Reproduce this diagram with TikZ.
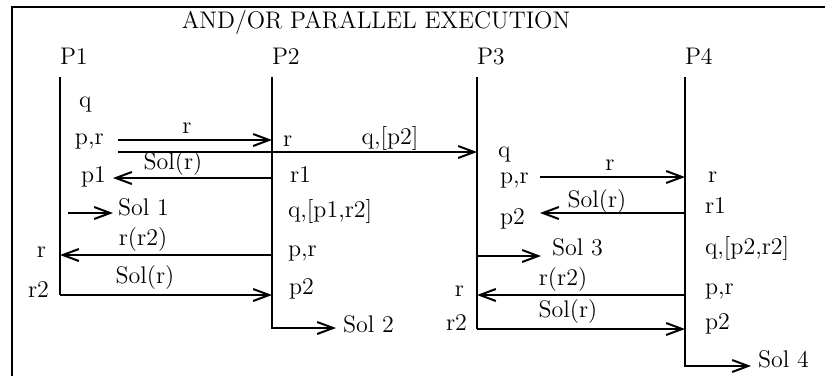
\documentclass[tikz,border=0pt]{standalone}
\usetikzlibrary{arrows.meta}
\begin{document}
\begin{tikzpicture}[x=0.5pt,y=-0.5pt,
  every node/.style={inner sep=0pt, outer sep=0pt, font=\fontsize{12}{14}\selectfont, text height=1.5ex, text depth=0.25ex},
  lab/.style={anchor=west},
  rlab/.style={anchor=east},
  proc/.style={line width=1pt},
  msg/.style={line width=1pt, -{Straight Barb[length=8pt,width=6pt]}},
  ttl/.style={font=\fontsize{12}{14}\selectfont}]
\useasboundingbox (0,0) rectangle (825,376);
% frame
\draw[line width=1pt] (12,376) -- (12,7) -- (825,7);
% title
\node[ttl] (title) at (376,23) {AND/OR PARALLEL EXECUTION};
% process headers
\node[lab] (P1) at (60,59) {P1};
\node[lab] (P2) at (272,59) {P2};
\node[lab] (P3) at (477,59) {P3};
\node[lab] (P4) at (685,59) {P4};
% process lines
\coordinate (t1) at (60,77);  \coordinate (b1) at (60,295);
\coordinate (t2) at (272,77); \coordinate (b2) at (272,328); \coordinate (s2) at (336,328);
\coordinate (t3) at (477,77); \coordinate (b3) at (477,329);
\coordinate (t4) at (685,77); \coordinate (b4) at (685,366); \coordinate (s4) at (751,366);
\draw[proc] (t1) -- (b1);
\draw[proc] (t3) -- (b3);
\draw[msg] (t2) -- (b2) -- (s2);
\draw[msg] (t4) -- (b4) -- (s4);
% P1 labels
\node[lab] (p1q) at (79,102) {q};
\node[lab] (p1pr) at (75,139) {p,r};
\node[lab] (p1p1) at (81,177) {p1};
\node[lab] (sol1) at (118,210) {Sol 1};
\node[rlab] (p1r) at (46,252) {r};
\node[rlab] (p1r2) at (49,292) {r2};
% P2 labels
\node[lab] (p2r) at (283,141) {r};
\node[lab] (p2r1) at (290,177) {r1};
\node[lab] (p2q) at (288,212) {q,[p1,r2]};
\node[lab] (p2pr) at (288,251) {p,r};
\node[lab] (p2p2) at (289,289) {p2};
\node[lab] (sol2) at (343,327) {Sol 2};
% P3 labels
\node[lab] (p3q) at (498,152) {q};
\node[lab] (p3pr) at (500,178) {p,r};
\node[lab] (p3p2) at (500,219) {p2};
\node[lab] (sol3) at (552,250) {Sol 3};
\node[rlab] (p3r) at (464,291) {r};
\node[rlab] (p3r2) at (467,325) {r2};
% P4 labels
\node[lab] (p4r) at (708,177) {r};
\node[lab] (p4r1) at (705,208) {r1};
\node[lab] (p4q) at (705,249) {q,[p2,r2]};
\node[lab] (p4pr) at (705,289) {p,r};
\node[lab] (p4p2) at (705,324) {p2};
\node[lab] (sol4) at (758,362) {Sol 4};
% message end points
\coordinate (m1) at (118,140);
\coordinate (m2) at (118,152);
\coordinate (m3) at (113,178);
\coordinate (m4a) at (68,213); \coordinate (m4b) at (113,213);
\coordinate (m5a) at (272,255); \coordinate (m5b) at (60,255);
\coordinate (m7) at (540,177);
\coordinate (m8) at (540,213);
\coordinate (m9) at (541,256);
\coordinate (m10a) at (685,295); \coordinate (m10b) at (477,295);
% messages
\draw[msg] (m1) -- (m1 -| t2);
\draw[msg] (m2) -- (m2 -| t3);
\draw[msg] (m3 -| t2) -- (m3);
\draw[msg] (m4a) -- (m4b);
\draw[msg] (m5a) -- (m5b);
\draw[msg] (b1) -- (b1 -| t2);
\draw[msg] (m7) -- (m7 -| t4);
\draw[msg] (m8 -| t4) -- (m8);
\draw[msg] (m9 -| t3) -- (m9);
\draw[msg] (m10a) -- (m10b);
\draw[msg] (b3) -- (b3 -| t4);
% message labels
\node (l1) at (187,128) {r};
\node (l2) at (390,139) {q,[p2]};
\node (l3) at (173,164) {Sol(r)};
\node (l5) at (143,240) {r(r2)};
\node (l6) at (145,278) {Sol(r)};
\node (l7) at (610,165) {r};
\node (l8) at (597,202) {Sol(r)};
\node (l10) at (563,280) {r(r2)};
\node (l11) at (568,312) {Sol(r)};
\end{tikzpicture}
\end{document}
